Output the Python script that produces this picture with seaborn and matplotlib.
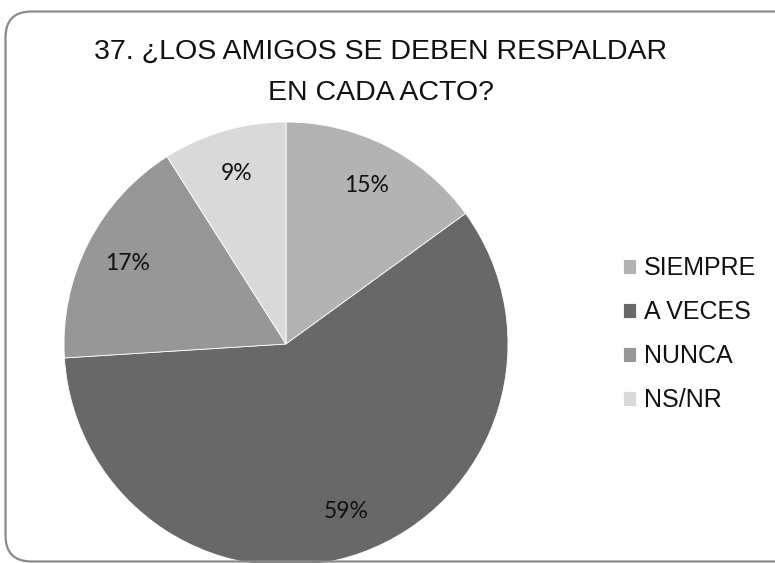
import matplotlib
matplotlib.use("Agg")
import matplotlib.pyplot as plt
from matplotlib.patches import FancyBboxPatch
from matplotlib.transforms import IdentityTransform
import seaborn as sns

categories = ["SIEMPRE", "A VECES", "NUNCA", "NS/NR"]
percentages = [15, 59, 17, 9]
colors = ["#b3b3b3", "#686868", "#979797", "#d9d9d9"]
title = "37. ¿LOS AMIGOS SE DEBEN RESPALDAR\nEN CADA ACTO?"

sns.set_theme(style="white")
plt.rcParams["font.family"] = ["Liberation Sans", "DejaVu Sans"]

W, H, DPI = 775, 563, 100
fig = plt.figure(figsize=(W / DPI, H / DPI), dpi=DPI)
fig.patch.set_facecolor("white")

# rounded chart-area frame (pixel coordinates, origin bottom-left)
frame = FancyBboxPatch((5.5, 1.5), 800, 550,
                       boxstyle="round,pad=0,rounding_size=26",
                       transform=IdentityTransform(),
                       facecolor="none", edgecolor="#8a8a8a", linewidth=1.6,
                       zorder=0)
fig.patches.append(frame)

# pie axes: centre (286, 344) px, radius 222 px
cx, cy, r = 286, 344, 222
ax = fig.add_axes([(cx - r) / W, (H - cy - r) / H, 2 * r / W, 2 * r / H])
wedges, texts, autotexts = ax.pie(
    percentages, colors=colors, startangle=90, counterclock=False,
    autopct=lambda p: f"{p:.0f}%", pctdistance=0.8, radius=1,
    wedgeprops=dict(edgecolor="white", linewidth=0.6),
    textprops=dict(fontsize=16.5, family=["Lato", "DejaVu Sans"], color="#111111"))
ax.set_xlim(-1, 1)
ax.set_ylim(-1, 1)
ax.set_aspect("auto")
ax.axis("off")

fig.text(381 / W, 1 - 72 / H, title, ha="center", va="center",
         fontsize=20.5, linespacing=1.75, color="#111111",
         family=["Liberation Sans Narrow", "Liberation Sans", "DejaVu Sans"])

leg = fig.legend(wedges, categories, loc="center left",
                 bbox_to_anchor=(600 / W, 1 - 334 / H), frameon=False,
                 fontsize=18, handlelength=0.55, handleheight=0.55,
                 handletextpad=0.3, labelspacing=0.8)
for t in leg.get_texts():
    t.set_color("#111111")

fig.savefig("out.png", dpi=DPI, facecolor="white")
